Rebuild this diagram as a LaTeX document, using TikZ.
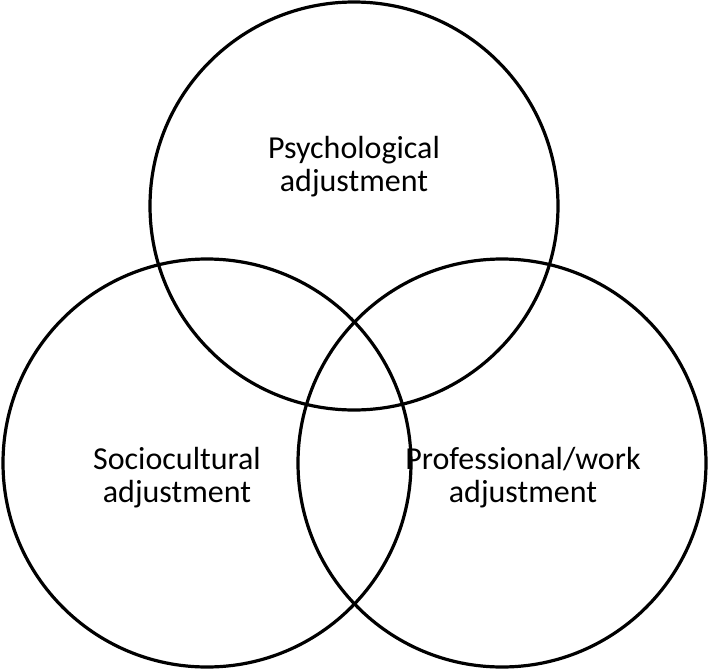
\documentclass[tikz,border=0pt]{standalone}
\usepackage{fontspec}
\setmainfont{Carlito}
\begin{document}
\begin{tikzpicture}[x=1pt,y=-1pt,circ/.style={draw=black,line width=3.2pt,circle,minimum size=408pt,inner sep=0pt},lab/.style={font=\fontsize{32}{33}\selectfont,align=center}]
\useasboundingbox (0,0) rectangle (712,670);
\node[circ] (top) at (354,206) {};
\node[circ] (left) at (207,463) {};
\node[circ] (right) at (502,463) {};
\node[lab] (t1) at (354,167) {Psychological\\adjustment};
\node[lab] (t2) at (177,478) {Sociocultural\\adjustment};
\node[lab] (t3) at (523,478) {Professional/work\\adjustment};
\end{tikzpicture}
\end{document}
